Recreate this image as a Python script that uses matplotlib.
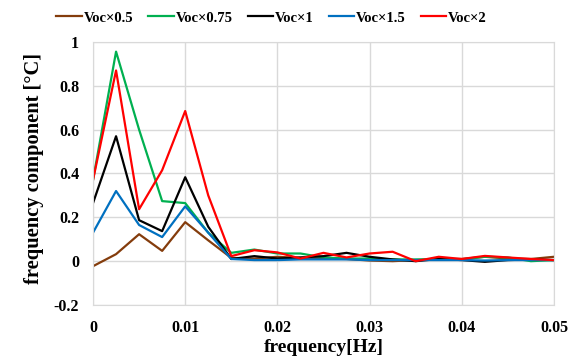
import matplotlib
matplotlib.use("Agg")
import matplotlib.pyplot as plt
import numpy as np

freq = [0, 0.0025, 0.005, 0.0075, 0.01, 0.0125, 0.015, 0.0175, 0.02, 0.0225, 0.025,
        0.0275, 0.03, 0.0325, 0.035, 0.0375, 0.04, 0.0425, 0.045, 0.0475, 0.05]

voc_05 = [-0.023, 0.032, 0.123, 0.047, 0.178, 0.095, 0.015, 0.012, 0.02, 0.015, 0.012,
          0.01, 0.003, 0.0, 0.005, 0.01, 0.01, 0.02, 0.012, 0.01, 0.02]
voc_075 = [0.37, 0.956, 0.6, 0.274, 0.265, 0.13, 0.038, 0.053, 0.035, 0.035, 0.017,
           0.012, 0.012, 0.008, 0.008, 0.008, 0.008, 0.02, 0.017, 0.0, 0.005]
voc_1 = [0.265, 0.57, 0.187, 0.137, 0.383, 0.157, 0.01, 0.023, 0.012, 0.017, 0.023,
         0.038, 0.02, 0.008, 0.0, 0.01, 0.005, -0.003, 0.005, 0.008, 0.005]
voc_15 = [0.13, 0.32, 0.165, 0.11, 0.25, 0.13, 0.01, 0.005, 0.005, 0.008, 0.008,
          0.008, 0.005, 0.005, 0.005, 0.005, 0.005, 0.003, 0.005, 0.005, 0.005]
voc_2 = [0.37, 0.87, 0.237, 0.415, 0.685, 0.30, 0.023, 0.05, 0.04, 0.012, 0.038,
         0.017, 0.035, 0.043, 0.0, 0.02, 0.01, 0.024, 0.017, 0.01, 0.005]

labels = ["Voc×0.5", "Voc×0.75", "Voc×1", "Voc×1.5", "Voc×2"]
colors = ["#843C0C", "#00B050", "#000000", "#0070C0", "#FF0000"]

plt.rcParams['font.family'] = ['Liberation Serif', 'DejaVu Serif']
plt.rcParams['font.weight'] = 'bold'

fig = plt.figure(figsize=(5.72, 3.61), dpi=100)
ax = fig.add_axes([0.1626, 0.1551, 0.8059, 0.7286])

for y, lab, c in zip([voc_05, voc_075, voc_1, voc_15, voc_2], labels, colors):
    ax.plot(freq, y, color=c, lw=1.6, label=lab)

ax.set_xlim(0, 0.05)
ax.set_ylim(-0.2, 1.0)
ax.set_xticks([0, 0.01, 0.02, 0.03, 0.04, 0.05])
ax.set_xticklabels(["0", "0.01", "0.02", "0.03", "0.04", "0.05"])
ax.set_yticks([-0.2, 0, 0.2, 0.4, 0.6, 0.8, 1.0])
ax.set_yticklabels(["-0.2", "0", "0.2", "0.4", "0.6", "0.8", "1"])
ax.grid(True, color="#D9D9D9", lw=1)
ax.set_axisbelow(True)
for s in ax.spines.values():
    s.set_color("#D9D9D9")
ax.tick_params(axis='y', length=0, labelsize=11.5, pad=10)
ax.tick_params(axis='x', length=0, labelsize=11.5, pad=11)
for t in ax.get_xticklabels() + ax.get_yticklabels():
    t.set_fontweight('bold')

ax.set_xlabel("frequency[Hz]", fontsize=14, fontweight='bold', labelpad=2)
ax.set_ylabel("frequency component [°C]", fontsize=14.8, fontweight='bold', labelpad=10)
ax.yaxis.set_label_coords(-0.107, 0.52)

leg = fig.legend(loc="upper center", bbox_to_anchor=(0.475, 1.005), ncol=5, frameon=False,
                 fontsize=10.5, handlelength=1.75, columnspacing=1.0, handletextpad=0.15)
for t in leg.get_texts():
    t.set_fontweight('bold')

fig.savefig("out.png", dpi=100)
